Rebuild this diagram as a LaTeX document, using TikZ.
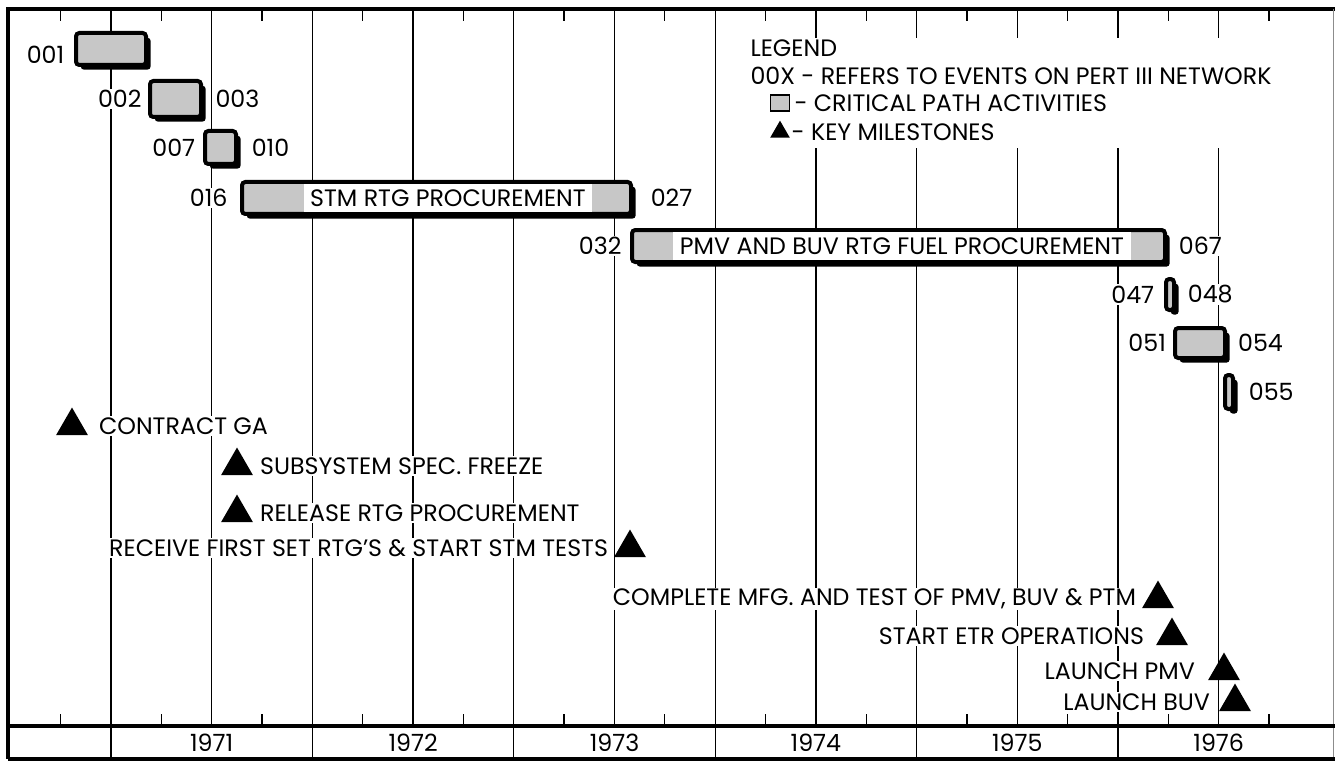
\documentclass[tikz,border=0pt]{standalone}
\usepackage{fontspec}
\setmainfont{Poppins}
\usetikzlibrary{positioning,shapes.geometric,shadows}

\newcommand{\px}{0.75pt}
\newcommand{\chartfont}{\fontsize{17.8}{20}\selectfont}

\tikzset{
  every picture/.style={line width=0.75pt},
  gridline/.style={line width=1pt},
  tickmark/.style={line width=1pt},
  frameline/.style={line width=2.4pt},
  axisline/.style={line width=3pt},
  bar/.style={draw=black, line width=3pt, fill=black!22, rounded corners=2.5pt, inner sep=0pt,
    drop shadow={shadow xshift=3.5pt, shadow yshift=-3.5pt, fill=black, opacity=1}},
  evt/.style={fill=white, inner sep=1pt, font=\chartfont},
  bartxt/.style={fill=white, inner xsep=5pt, inner ysep=0pt, minimum height=21pt, font=\chartfont},
  mile/.style={regular polygon, regular polygon sides=3, fill=black, inner sep=0pt, minimum size=27.7pt},
  miletxt/.style={fill=white, inner sep=1pt, font=\chartfont},
  yearlbl/.style={inner sep=1pt, font=\chartfont},
  legtxt/.style={anchor=west, inner sep=0pt, font=\chartfont},
  legsq/.style={draw=black, line width=1pt, fill=black!22, minimum width=14pt, minimum height=12pt, inner sep=0pt},
  legtri/.style={regular polygon, regular polygon sides=3, fill=black, inner sep=0pt, minimum size=17pt}
}

\begin{document}
\begin{tikzpicture}[
    x=0.75pt,
    y=0.75pt,
    yscale=-1,
    xscale=1
  ]
  \useasboundingbox (0,0) rectangle (1335,763);

  % grid and time axis
  \foreach \k in {0,...,11}
    \draw[gridline] ({111+100.7*\k},9) -- ({111+100.7*\k},726);
  \foreach \k in {0,...,12} {
    \draw[tickmark] ({60.6+100.7*\k},9) -- ++(0,12);
    \draw[tickmark] ({60.6+100.7*\k},726) -- ++(0,-12);
  }
  \draw[frameline] (8,759) -- (8,9) -- (1335,9);
  \draw[line width=0.5pt, black!45] (1333,9) -- (1333,759);
  \draw[axisline] (8,726) -- (1335,726);
  \draw[frameline] (8,759) -- (1335,759);
  \foreach \j in {0,...,5}
    \draw[gridline] ({111+201.4*\j},726) -- ({111+201.4*\j},759);
  \foreach \yr [count=\j from 0] in {1971,...,1976}
    \node[yearlbl] (y\yr) at ({211.7+201.4*\j},742.5) {\yr};

  % legend
  \node[fill=white, inner sep=0pt, minimum width=545*\px, minimum height=110*\px, anchor=north west] (legendbg) at (742,38) {};
  \node[legtxt] (legHead) at (750,48) {LEGEND};
  \node[legtxt] (legEvt) at (750,76) {00X - REFERS TO EVENTS ON PERT III NETWORK};
  \node[legsq] (legCrit) at (780,103) {};
  \node[legtxt, right=3pt of legCrit] (legCritTxt) {- CRITICAL PATH ACTIVITIES};
  \node[legtri] (legMile) at (780,132) {};
  \node[legtxt, right=3pt of legMile] (legMileTxt) {- KEY MILESTONES};

  % critical path activities
  \node[bar, minimum width=70*\px, minimum height=32*\px] (b001) at (111,49) {};
  \node[evt, left=6pt of b001, yshift=-4pt] (e001) {001};

  \node[bar, minimum width=51*\px, minimum height=36*\px] (b002) at (175.5,99) {};
  \node[evt, left=3.5pt of b002] (e002) {002};
  \node[evt, right=8pt of b002] (e003) {003};

  \node[bar, minimum width=31*\px, minimum height=33*\px] (b007) at (220.5,147.5) {};
  \node[evt, left=4.5pt of b007] (e007) {007};
  \node[evt, right=9pt of b007] (e010) {010};

  \node[bar, minimum width=389*\px, minimum height=32*\px] (b016) at (436.5,198) {};
  \node[evt, left=8pt of b016] (e016) {016};
  \node[evt, right=12pt of b016] (e027) {027};
  \node[bartxt, xshift=8.6pt] (tSTM) at (b016.center) {STM RTG PROCUREMENT};

  \node[bar, minimum width=533*\px, minimum height=32*\px] (b032) at (898.5,246) {};
  \node[evt, left=5pt of b032] (e032) {032};
  \node[evt, right=7.5pt of b032] (e067) {067};
  \node[bartxt, xshift=2.6pt] (tPMV) at (b032.center) {PMV AND BUV RTG FUEL PROCUREMENT};

  \node[bar, minimum width=8*\px, minimum height=31*\px] (b047) at (1170,294.5) {};
  \node[evt, left=6pt of b047] (e047) {047};
  \node[evt, right=7.5pt of b047] (e048) {048};

  \node[bar, minimum width=50*\px, minimum height=30*\px] (b051) at (1200,343) {};
  \node[evt, left=4pt of b051] (e051) {051};
  \node[evt, right=7pt of b051] (e054) {054};

  \node[bar, minimum width=8*\px, minimum height=34*\px] (b055) at (1229,392) {};
  \node[evt, right=9pt of b055] (e055) {055};

  % key milestones
  \node[mile] (mGA) at (72,426) {};
  \node[miletxt, right=10.5pt of mGA] (tGA) {CONTRACT GA};
  \node[mile] (mFreeze) at (237,466) {};
  \node[miletxt, right=7.5pt of mFreeze] (tFreeze) {SUBSYSTEM SPEC. FREEZE};
  \node[mile] (mRelease) at (237,513) {};
  \node[miletxt, right=7.5pt of mRelease] (tRelease) {RELEASE RTG PROCUREMENT};
  \node[mile] (mReceive) at (630,548) {};
  \node[miletxt, left=6.7pt of mReceive] (tReceive) {RECEIVE FIRST SET RTG'S \& START STM TESTS};
  \node[mile] (mComplete) at (1158,599) {};
  \node[miletxt, left=6.7pt of mComplete] (tComplete) {COMPLETE MFG. AND TEST OF PMV, BUV \& PTM};
  \node[mile] (mETR) at (1172,636) {};
  \node[miletxt, left=11.2pt of mETR] (tETR) {START ETR OPERATIONS};
  \node[mile] (mLaunchP) at (1224,671) {};
  \node[miletxt, left=12pt of mLaunchP] (tLaunchP) {LAUNCH PMV};
  \node[mile] (mLaunchB) at (1235,702) {};
  \node[miletxt, left=9pt of mLaunchB] (tLaunchB) {LAUNCH BUV};
\end{tikzpicture}
\end{document}
